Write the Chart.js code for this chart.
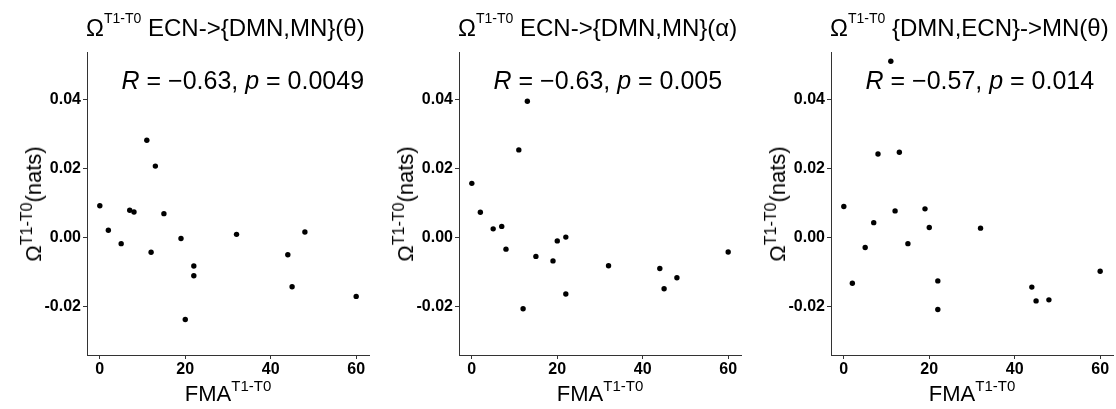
<!DOCTYPE html>
<html>
<head>
<meta charset="utf-8">
<script src="https://cdn.jsdelivr.net/npm/chart.js@4/dist/chart.umd.min.js"></script>
<style>
  html, body { margin: 0; padding: 0; background: #ffffff; }
  body { width: 1116px; height: 409px; overflow: hidden; position: relative;
         font-family: "Liberation Sans", Arial, sans-serif; color: #000; }
  .panel { position: absolute; top: 0; width: 372px; height: 409px; }
  .panel canvas { position: absolute; left: 0; top: 0; }
  .txt { position: absolute; white-space: nowrap; line-height: 1; }
  .title { font-size: 24px; }
  .stat { font-size: 25px; }
  .xtitle { font-size: 22px; transform: translateX(-50%); }
  .ytitle { font-size: 22px; transform: translate(-50%, -50%) rotate(-90deg); }
  .sup { position: relative; }
  .title .sup { font-size: 14px; top: -13px; }
  .xtitle .sup { font-size: 15px; top: -10px; }
  .ytitle .sup { font-size: 16px; top: -9px; }
  i { font-style: italic; }
</style>
</head>
<body>
<script>
// ---- data ----
const fma = [0, 2, 5, 7, 8, 11, 12, 13, 15, 19, 20, 22, 22, 32, 44, 45, 48, 60];

const omegaEcnToDmnMnTheta = [0.0092, 0.0021, -0.0018, 0.0079, 0.0074, 0.0282, -0.0043, 0.0207, 0.0069,
                              -0.0003, -0.0238, -0.0083, -0.0111, 0.0009, -0.0050, -0.0143, 0.0016, -0.0171];
const omegaEcnToDmnMnAlpha = [0.0157, 0.0073, 0.0025, 0.0032, -0.0034, 0.0254, -0.0207, 0.0395, -0.0055,
                              -0.0068, -0.0010, 0.0001, -0.0164, -0.0082, -0.0090, -0.0149, -0.0117, -0.0042];
const omegaDmnEcnToMnTheta = [0.0090, -0.0133, -0.0029, 0.0043, 0.0242, 0.0511, 0.0077, 0.0247, -0.0018,
                              0.0083, 0.0029, -0.0126, -0.0209, 0.0027, -0.0144, -0.0184, -0.0181, -0.0098];

const panelTitles = ["ECN->{DMN,MN}(\u03B8)", "ECN->{DMN,MN}(\u03B1)", "{DMN,ECN}->MN(\u03B8)"];
const rValues = ["\u22120.63", "\u22120.63", "\u22120.57"];
const pValues = ["0.0049", "0.005", "0.014"];

const xTicks = [0, 20, 40, 60];
const yTicks = [-0.02, 0.00, 0.02, 0.04];
const xRange = [-3, 63];
const yRange = [-0.0341, 0.0538];

const panelSeries = [omegaEcnToDmnMnTheta, omegaEcnToDmnMnAlpha, omegaDmnEcnToMnTheta];

// ---- drawing ----
const FONT = '"Liberation Sans", Arial, sans-serif';
const AXIS = '#333333';

function esc(s) { return s.replace(/&/g, '&amp;').replace(/</g, '&lt;').replace(/>/g, '&gt;'); }

function makePanel(i) {
  const panel = document.createElement('div');
  panel.className = 'panel';
  panel.style.left = (i * 372) + 'px';
  document.body.appendChild(panel);
  const canvas = document.createElement('canvas');
  canvas.width = 372; canvas.height = 409;
  canvas.style.width = '372px'; canvas.style.height = '409px';
  panel.appendChild(canvas);

  const values = panelSeries[i];
  const chart = new Chart(canvas.getContext('2d'), {
    type: 'scatter',
    data: {
      datasets: [{
        data: fma.map((x, k) => ({ x: x, y: values[k] })),
        backgroundColor: '#000000',
        borderColor: '#000000',
        borderWidth: 0,
        pointRadius: 2.7,
        pointHoverRadius: 2.7
      }]
    },
    options: {
      responsive: false,
      animation: false,
      events: [],
      layout: { padding: { top: 52, right: 3, left: 0, bottom: 0 } },
      plugins: { legend: { display: false }, tooltip: { enabled: false }, title: { display: false } },
      scales: {
        x: {
          type: 'linear', min: xRange[0], max: xRange[1],
          afterBuildTicks: s => { s.ticks = xTicks.map(v => ({ value: v })); },
          afterFit: s => { s.height = 54; },
          grid: { display: true, drawOnChartArea: false, drawTicks: true, tickLength: 4, color: AXIS, lineWidth: 1 },
          border: { display: true, color: AXIS, width: 1 },
          ticks: { color: '#000', padding: 1, maxRotation: 0, autoSkip: false,
                   font: { family: FONT, size: 16, weight: 'bold' },
                   callback: v => String(v) }
        },
        y: {
          type: 'linear', min: yRange[0], max: yRange[1],
          afterBuildTicks: s => { s.ticks = yTicks.map(v => ({ value: v })); },
          afterFit: s => { s.width = 87; },
          grid: { display: true, drawOnChartArea: false, drawTicks: true, tickLength: 4, color: AXIS, lineWidth: 1 },
          border: { display: true, color: AXIS, width: 1 },
          ticks: { color: '#000', padding: 2, autoSkip: false,
                   font: { family: FONT, size: 16, weight: 'bold' },
                   callback: v => Number(v).toFixed(2) }
        }
      }
    }
  });

  const ca = chart.chartArea;

  const title = document.createElement('div');
  title.className = 'txt title';
  title.innerHTML = '\u03A9<span class="sup">T1-T0</span> ' + esc(panelTitles[i]);
  title.style.left = (ca.left - 1) + 'px';
  title.style.top = '16px';
  panel.appendChild(title);

  const stat = document.createElement('div');
  stat.className = 'txt stat';
  stat.innerHTML = '<i>R</i> = ' + rValues[i] + ', <i>p</i> = ' + pValues[i];
  stat.style.left = (ca.left + 34.5) + 'px';
  stat.style.top = '68px';
  panel.appendChild(stat);

  const xt = document.createElement('div');
  xt.className = 'txt xtitle';
  xt.innerHTML = 'FMA<span class="sup">T1-T0</span>';
  xt.style.left = ((ca.left + ca.right) / 2) + 'px';
  xt.style.top = '383px';
  panel.appendChild(xt);

  const yt = document.createElement('div');
  yt.className = 'txt ytitle';
  yt.innerHTML = '\u03A9<span class="sup">T1-T0</span>(nats)';
  yt.style.left = '34px';
  yt.style.top = ((ca.top + ca.bottom) / 2) + 'px';
  panel.appendChild(yt);
}

for (let i = 0; i < 3; i++) makePanel(i);
</script>
</body>
</html>
